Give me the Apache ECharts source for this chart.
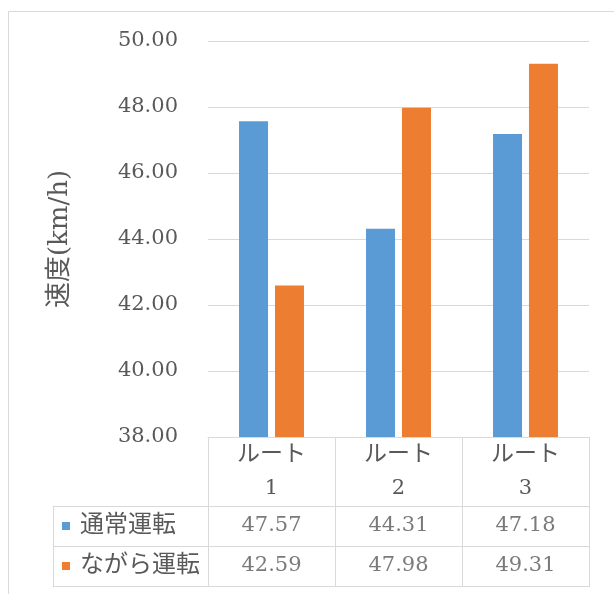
<!DOCTYPE html>
<html>
<head>
<meta charset="utf-8">
<script src="https://cdn.jsdelivr.net/npm/echarts@6/dist/echarts.min.js"></script>
<style>
  html, body { margin: 0; padding: 0; background: #fff; }
  #chart { width: 614px; height: 594px; }
</style>
</head>
<body>
<div id="chart"></div>
<script>
// Route speed chart with data table below

var routes = ["ルート1", "ルート2", "ルート3"];
var seriesNames = ["通常運転", "ながら運転"];
var normalSpeed = [47.57, 44.31, 47.18];
var nagaraSpeed = [42.59, 47.98, 49.31];
var colors = ["#5B9BD5", "#ED7D31"];

var serif = "'DejaVu Serif', 'Noto Sans CJK JP', serif";
var textColor = "#595959";
var lineColor = "#d9d9d9";

var dom = document.getElementById("chart");
var myChart = echarts.init(dom);

// table cells: [column, row, value]
var tableData = [];
[normalSpeed, nagaraSpeed].forEach(function (arr, row) {
  arr.forEach(function (v, col) {
    tableData.push([col, row, v]);
  });
});

var option = {
  animation: false,
  textStyle: { fontFamily: serif },
  graphic: [
    {
      type: "rect",
      silent: true,
      shape: { x: 8.5, y: 11.5, width: 800, height: 800 },
      style: { fill: "none", stroke: lineColor, lineWidth: 1 },
    },
  ],
  grid: [
    { left: 208, right: 25, top: 41, height: 396 },
    { left: 208, right: 25, top: 506, height: 80 },
  ],
  xAxis: [
    {
      type: "category",
      gridIndex: 0,
      data: routes,
      axisLine: { show: true, lineStyle: { color: lineColor } },
      axisTick: {
        show: true,
        interval: 0,
        length: 150,
        lineStyle: { color: lineColor },
      },
      axisLabel: {
        interval: 0,
        margin: 2,
        formatter: function (v) {
          var m = v.match(/^(.*?)(\d+)$/);
          return "{a|" + m[1] + "}\n{b|" + m[2] + "}";
        },
        rich: {
          a: { fontSize: 23, lineHeight: 33, color: textColor, fontFamily: serif },
          b: { fontSize: 21, lineHeight: 33, color: textColor, fontFamily: serif },
        },
      },
    },
    {
      type: "category",
      gridIndex: 1,
      data: routes,
      show: false,
    },
  ],
  yAxis: [
    {
      type: "value",
      gridIndex: 0,
      min: 38,
      max: 50,
      interval: 2,
      name: "速度(km/h)",
      nameLocation: "middle",
      nameRotate: 90,
      nameGap: 135,
      nameTextStyle: { fontSize: 26, color: textColor, fontFamily: serif },
      axisLine: { show: false },
      axisTick: { show: false },
      splitLine: { lineStyle: { color: lineColor } },
      axisLabel: {
        margin: 30,
        color: textColor,
        fontSize: 21,
        fontFamily: serif,
        formatter: function (v) {
          return v.toFixed(2);
        },
      },
    },
    {
      type: "category",
      gridIndex: 1,
      inverse: true,
      data: seriesNames,
      axisLine: { show: true, lineStyle: { color: lineColor } },
      axisTick: {
        show: true,
        interval: 0,
        length: 155,
        lineStyle: { color: lineColor },
      },
      splitLine: {
        show: true,
        interval: 0,
        lineStyle: { color: lineColor },
      },
      axisLabel: {
        interval: 0,
        align: "left",
        margin: 146,
        formatter: function (v, i) {
          return "{m" + i + "|}{t|" + v + "}";
        },
        rich: {
          m0: { width: 8, height: 8, backgroundColor: colors[0] },
          m1: { width: 8, height: 8, backgroundColor: colors[1] },
          t: {
            fontSize: 24,
            color: textColor,
            fontFamily: serif,
            padding: [0, 0, 0, 10],
          },
        },
      },
    },
    {
      type: "category",
      gridIndex: 1,
      position: "left",
      offset: 155,
      data: seriesNames,
      axisLine: { show: true, lineStyle: { color: lineColor } },
      axisTick: { show: false },
      axisLabel: { show: false },
    },
  ],
  series: [
    {
      name: seriesNames[0],
      type: "bar",
      xAxisIndex: 0,
      yAxisIndex: 0,
      barWidth: 29,
      barGap: "24%",
      itemStyle: { color: colors[0] },
      data: normalSpeed,
    },
    {
      name: seriesNames[1],
      type: "bar",
      xAxisIndex: 0,
      yAxisIndex: 0,
      barWidth: 29,
      barGap: "24%",
      itemStyle: { color: colors[1] },
      data: nagaraSpeed,
    },
    {
      name: "table",
      type: "scatter",
      xAxisIndex: 1,
      yAxisIndex: 1,
      symbolSize: 0,
      silent: true,
      label: {
        show: true,
        position: "inside",
        color: textColor,
        fontSize: 21,
        fontFamily: serif,
        formatter: function (p) {
          return p.value[2].toFixed(2);
        },
      },
      data: tableData,
    },
  ],
};

if (option && typeof option === "object") {
  myChart.setOption(option);
}
</script>
</body>
</html>
